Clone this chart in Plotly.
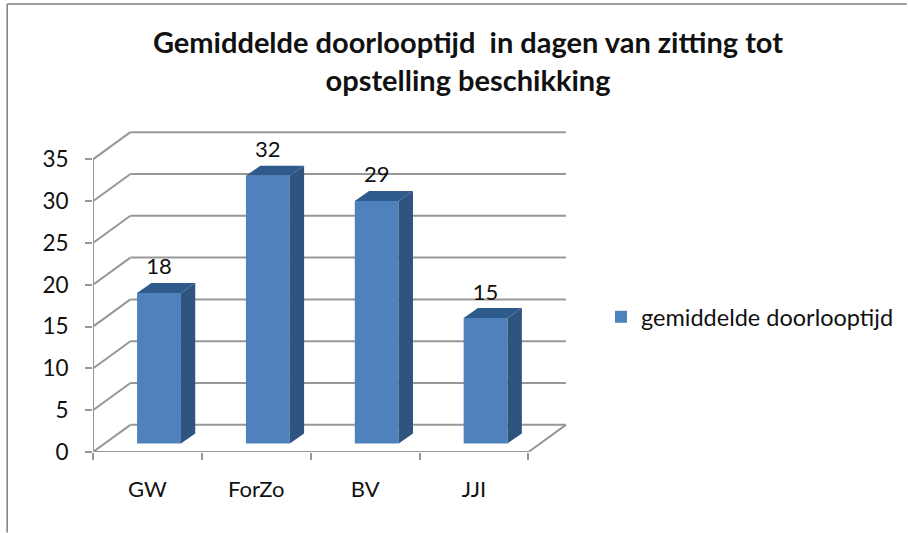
import plotly.graph_objects as go

categories = ["GW", "ForZo", "BV", "JJI"]
values = [18, 32, 29, 15]
y_ticks = [0, 5, 10, 15, 20, 25, 30, 35]
series_name = "gemiddelde doorlooptijd"

W, H = 908, 533
L, R, T, B = 92.5, 567.5, 131, 452.3
PX_X = 109.1
PX_Y = 8.37
WALL_DX, WALL_DY = 37.5 / PX_X, 27.2 / PX_Y
SIDE_DX, SIDE_DY = 14.3 / PX_X, 10.0 / PX_Y
BAR_W = 44.0 / PX_X
BAR_SHIFT = 11.6 / PX_X
BAR_BASE = 8.6 / PX_Y
FRONT = "#4F81BD"
SIDE = "#2F5480"
TOP = "#2F5A8C"
GRID = "#979797"
FONT = "Lato"

centers = [i + 0.5 for i in range(len(categories))]
bar_x = [c + BAR_SHIFT for c in centers]
n = len(categories)

fig = go.Figure()
fig.add_trace(go.Bar(
    x=bar_x, y=values, base=BAR_BASE, width=BAR_W, name=series_name,
    marker=dict(color=FRONT, line=dict(width=0)), showlegend=True, hoverinfo="skip",
))

for xc, v in zip(bar_x, values):
    x0, x1 = xc - BAR_W / 2, xc + BAR_W / 2
    top = BAR_BASE + v
    fig.add_trace(go.Scatter(
        x=[x1, x1 + SIDE_DX, x1 + SIDE_DX, x1, x1],
        y=[BAR_BASE, BAR_BASE + SIDE_DY, top + SIDE_DY, top, BAR_BASE],
        mode="lines", fill="toself", fillcolor=SIDE, line=dict(width=0),
        showlegend=False, hoverinfo="skip",
    ))
    fig.add_trace(go.Scatter(
        x=[x0, x0 + SIDE_DX, x1 + SIDE_DX, x1, x0],
        y=[top, top + SIDE_DY, top + SIDE_DY, top, top],
        mode="lines", fill="toself", fillcolor=TOP, line=dict(width=0),
        showlegend=False, hoverinfo="skip",
    ))

fig.add_trace(go.Scatter(
    x=bar_x,
    y=[BAR_BASE + v + 24 / PX_Y for v in values],
    text=[str(v) for v in values], mode="text", textposition="middle center",
    textfont=dict(family=FONT, size=22, color="#111111"),
    showlegend=False, hoverinfo="skip", cliponaxis=False,
))

# front axis lines
fig.add_trace(go.Scatter(
    x=[0, 0, n], y=[y_ticks[-1], 0, 0], mode="lines",
    line=dict(color=GRID, width=2), showlegend=False, hoverinfo="skip", cliponaxis=False,
))

shapes = []
gl = dict(color=GRID, width=2)
for v in y_ticks:
    shapes.append(dict(type="line", xref="x", yref="y", layer="below",
                       x0=0, y0=v, x1=WALL_DX, y1=v + WALL_DY, line=gl))
    shapes.append(dict(type="line", xref="x", yref="y", layer="below",
                       x0=WALL_DX, y0=v + WALL_DY, x1=n + WALL_DX, y1=v + WALL_DY, line=gl))
shapes.append(dict(type="line", xref="x", yref="y", layer="below",
                   x0=n, y0=0, x1=n + WALL_DX, y1=WALL_DY, line=gl))
frame = dict(color="#7f7f7f", width=1.5)
shapes.append(dict(type="line", xref="paper", yref="paper", x0=-(L - 6.5) / (R - L), x1=(W - L) / (R - L),
                   y0=(B - 4) / (B - T), y1=(B - 4) / (B - T), line=frame))
shapes.append(dict(type="line", xref="paper", yref="paper", x0=-(L - 6.5) / (R - L), x1=-(L - 6.5) / (R - L),
                   y0=(B - 4) / (B - T), y1=(B - H) / (B - T), line=frame))

fig.update_layout(
    width=W, height=H, autosize=False,
    margin=dict(l=L, r=W - R, t=T, b=H - B, autoexpand=False),
    paper_bgcolor="white", plot_bgcolor="white",
    shapes=shapes,
    title=dict(
        text="<b>Gemiddelde doorlooptijd\u00a0 in dagen van zitting tot<br>opstelling beschikking</b>",
        x=468 / W, xanchor="center", y=1 - 53 / H, yanchor="middle",
        font=dict(family=FONT, size=29, color="#111111"),
    ),
    legend=dict(x=601 / W, y=1 - 317 / H, xref="container", yref="container",
                xanchor="left", yanchor="middle", font=dict(family=FONT, size=23.5, color="#111111"),
                bgcolor="rgba(0,0,0,0)"),
    xaxis=dict(
        range=[0, (R - L) / PX_X], tickmode="array", tickvals=centers, ticktext=categories,
        ticks="", showgrid=False, zeroline=False, showline=False, fixedrange=True,
        tickfont=dict(family=FONT, size=22, color="#111111"), ticklabelstandoff=22,
        minor=dict(tick0=0, dtick=1, ticks="outside", ticklen=7, tickwidth=2, tickcolor=GRID, showgrid=False),
    ),
    yaxis=dict(
        range=[0, (B - T) / PX_Y], tickmode="array", tickvals=y_ticks, ticks="outside",
        ticklen=7, tickwidth=2, tickcolor=GRID, showgrid=False, zeroline=False, showline=False,
        fixedrange=True, tickfont=dict(family=FONT, size=22.5, color="#111111"), ticklabelstandoff=12,
    ),
)

fig.write_html("out.html", config={"displayModeBar": False},
               post_script="document.body.style.margin='0';window.dispatchEvent(new Event('resize'));")
